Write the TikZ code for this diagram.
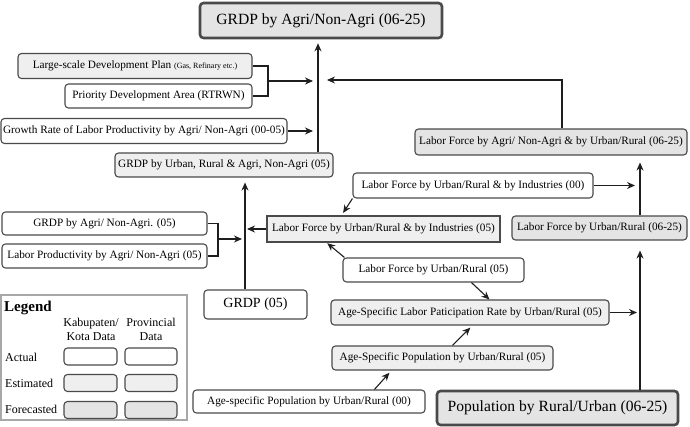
\documentclass[tikz,border=0pt]{standalone}
\usepackage{fontspec}
\setmainfont{Liberation Serif}
\usetikzlibrary{arrows.meta,calc}
\definecolor{bdr}{HTML}{4A4A4A}
\definecolor{lnc}{HTML}{1E1E1E}
\definecolor{estc}{HTML}{EFEFEF}
\definecolor{fctc}{HTML}{E4E4E4}
\definecolor{lgc}{HTML}{A8A8A8}
\newcommand\myfs{\fontsize{11.25}{13.5}\selectfont}
\newcommand\mybig{\fontsize{15.6}{18}\selectfont}
\newcommand\mysmall{\fontsize{8}{9}\selectfont}
\begin{document}
\begin{tikzpicture}[x=1pt,y=-1pt,
  box/.style={draw=bdr, line width=1.1pt, rounded corners=3.5pt, inner sep=0pt, align=center, font=\myfs},
  act/.style={fill=white},
  est/.style={fill=estc},
  fct/.style={fill=fctc},
  heavy/.style={line width=2.6pt, font=\mybig},
  conn/.style={draw=lnc, line width=1.1pt},
  arr/.style={conn, -{Stealth[length=8pt,width=7pt]}},
  lbl/.style={inner sep=0pt, font=\fontsize{12}{14}\selectfont}]
\useasboundingbox (0,0) rectangle (690,427);
% main nodes
\node[box,fct,heavy,minimum width=242pt,minimum height=35pt] (top) at (321,20.5) {GRDP by Agri/Non-Agri (06-25)};
\node[box,est,minimum width=234pt,minimum height=25pt] (ls) at (135,66) {Large-scale Development Plan {\mysmall (Gas, Refinary etc.)}};
\node[box,act,minimum width=187pt,minimum height=24pt] (pda) at (158.5,96) {Priority Development Area (RTRWN)};
\node[box,act,minimum width=286pt,minimum height=25pt] (gr) at (144,131) {Growth Rate of Labor Productivity by Agri/ Non-Agri (00-05)};
\node[box,est,minimum width=218pt,minimum height=24pt] (gu) at (224,165) {GRDP by Urban, Rural \& Agri, Non-Agri (05)};
\node[box,act,minimum width=205pt,minimum height=23pt] (ga) at (104.5,223.5) {GRDP by Agri/ Non-Agri. (05)};
\node[box,act,minimum width=205pt,minimum height=24pt] (lp) at (104.5,256) {Labor Productivity by Agri/ Non-Agri (05)};
\node[box,est,sharp corners,minimum width=233pt,minimum height=26pt] (li05) at (383.5,229) {Labor Force by Urban/Rural \& by Industries (05)};
\node[box,act,minimum width=240pt,minimum height=25pt] (li00) at (473,185.5) {Labor Force by Urban/Rural \& by Industries (00)};
\node[box,fct,minimum width=272pt,minimum height=26pt] (lan) at (551,142) {Labor Force by Agri/ Non-Agri \& by Urban/Rural (06-25)};
\node[box,fct,minimum width=175pt,minimum height=24pt] (lur06) at (599.5,228) {Labor Force by Urban/Rural (06-25)};
\node[box,act,minimum width=181pt,minimum height=24pt] (lur05) at (433.5,270) {Labor Force by Urban/Rural (05)};
\node[box,est,minimum width=278pt,minimum height=25pt] (alp) at (470,312.5) {Age-Specific Labor Paticipation Rate by Urban/Rural (05)};
\node[box,est,minimum width=221pt,minimum height=24pt] (asp05) at (442.5,358) {Age-Specific Population by Urban/Rural (05)};
\node[box,act,minimum width=232pt,minimum height=23pt] (asp00) at (309,401.5) {Age-specific Population by Urban/Rural (00)};
\node[box,fct,heavy,minimum width=241pt,minimum height=34pt] (pop) at (557.5,408) {Population by Rural/Urban (06-25)};
\node[box,act,minimum width=103pt,minimum height=29pt,font=\fontsize{14}{16}\selectfont] (grdp05) at (255.5,304.5) {GRDP (05)};
% helper coordinates
\coordinate (vx) at (318,0);
\coordinate (v2) at (245,0);
\coordinate (v3) at (640,0);
\coordinate (b1) at (268,81);
\coordinate (b2) at (218,239);
\coordinate (c1) at (562,80);
% connectors to top
\draw[arr,shorten >=4pt] (vx |- gu.north) -- (vx |- top.south);
\draw[conn] (ls.east) -| (b1) |- (pda.east);
\draw[arr,shorten >=5pt] (b1) -- (b1 -| vx);
\draw[arr,shorten >=5pt] (gr.east) -- (gr.east -| vx);
\draw[arr,shorten >=9pt] (c1 |- lan.north) -- (c1) -- (c1 -| vx);
% GRDP by urban inputs
\draw[arr,shorten >=5pt] (v2 |- grdp05.north) -- (v2 |- gu.south);
\draw[conn] (ga.east) -| (b2) |- (lp.east);
\draw[arr,shorten >=3pt] (b2) -- (b2 -| v2);
\draw[arr,shorten >=2pt] (li05.west) -- (li05.west -| v2);
% labor force
\draw[arr,shorten >=3pt] (li00.south west) -- ($(li05.north west)+(75,0)$);
\draw[arr,shorten >=5pt] (li00.east) -- (li00.east -| v3);
\draw[arr,shorten >=7pt] (v3 |- lur06.north) -- (v3 |- lan.south);
\draw[arr,shorten >=10pt] (v3 |- pop.north) -- (v3 |- lur06.south);
\draw[arr,shorten >=3pt] (alp.east) -- (alp.east -| v3);
\draw[arr,shorten >=1pt] ($(lur05.north west)+(2,0)$) -- ($(li05.south west)+(60,0)$);
\draw[arr] ($(lur05.south west)+(129,0)$) -- ($(alp.north west)+(159,0)$);
\draw[arr,shorten >=3pt] ($(asp05.north west)+(121,0)$) -- ($(alp.south west)+(142,0)$);
\draw[arr,shorten >=3pt] ($(asp00.north west)+(182,0)$) -- ($(asp05.south west)+(60,0)$);
% legend
\node[draw=lgc, line width=1.2pt, minimum width=186pt, minimum height=125pt, inner sep=0pt] (legend) at (94,357.5) {};
\node[inner sep=0pt, anchor=base west, font=\fontsize{15}{17}\selectfont\bfseries] (lgt) at (4,312) {Legend};
\node[lbl, align=center] (h1) at (91,329) {Kabupaten/\\Kota Data};
\node[lbl, align=center] (h2) at (151,329) {Provincial\\Data};
\node[lbl, anchor=west] (r1) at (5,357) {Actual};
\node[lbl, anchor=west] (r2) at (5,383) {Estimated};
\node[lbl, anchor=west] (r3) at (5,409) {Forecasted};
\node[box,act,minimum width=53pt,minimum height=17pt] (k1) at (90.5,356.5) {};
\node[box,act,minimum width=52pt,minimum height=17pt] (p1) at (151,356.5) {};
\node[box,est,minimum width=53pt,minimum height=17pt] (k2) at (90.5,383) {};
\node[box,est,minimum width=52pt,minimum height=17pt] (p2) at (151,383) {};
\node[box,fct,minimum width=53pt,minimum height=17pt] (k3) at (90.5,410) {};
\node[box,fct,minimum width=52pt,minimum height=17pt] (p3) at (151,410) {};
\end{tikzpicture}
\end{document}
